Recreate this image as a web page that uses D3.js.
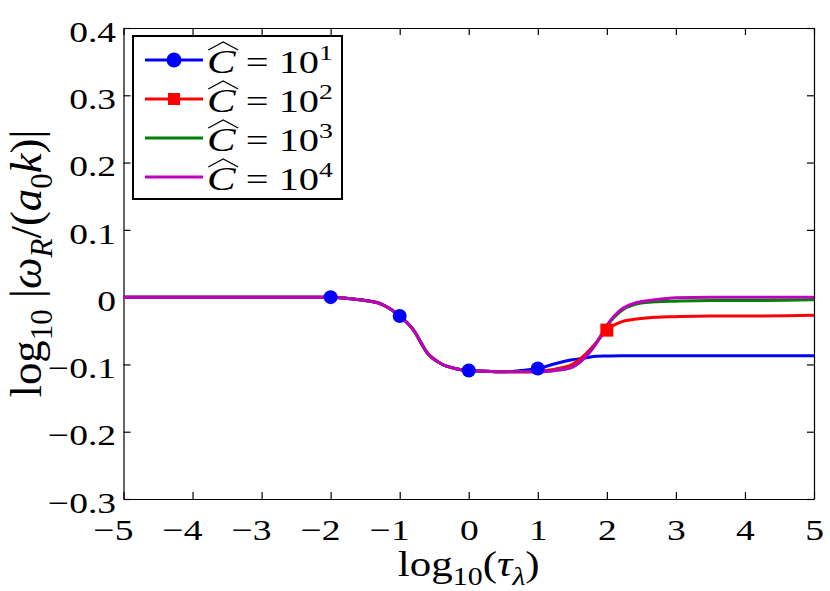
<!DOCTYPE html>
<html>
<head>
<meta charset="utf-8">
<script src="https://cdn.jsdelivr.net/npm/d3@7"></script>
<style>
    body { margin: 0; background: #fff; }
    text { font-family: "Liberation Serif", "Times New Roman", serif; fill: #000; }
</style>
</head>
<body>
<svg id="chart"></svg>
<script>
// values
const logTau = [-5, -3, -2.5, -2, -1.75, -1.5, -1.25, -1, -0.8, -0.6, -0.4, -0.2, 0, 0.25, 0.5,
    0.75, 1, 1.25, 1.5, 1.7, 1.85, 2, 2.2, 2.4, 2.7, 3, 3.5, 4, 5];
const c1 = [0, 0, 0, 0, -0.002, -0.005, -0.011, -0.028, -0.049, -0.083, -0.099, -0.106, -0.109, -0.110, -0.111,
    -0.109, -0.106, -0.099, -0.093, -0.090, -0.088, -0.0875, -0.087, -0.087, -0.087, -0.087, -0.087, -0.087, -0.087];
const c2 = [0, 0, 0, 0, -0.002, -0.005, -0.011, -0.028, -0.049, -0.083, -0.099, -0.106, -0.109, -0.110, -0.111,
    -0.111, -0.110, -0.107, -0.100, -0.084, -0.067, -0.049, -0.037, -0.033, -0.030, -0.029, -0.028, -0.028, -0.027];
const c3 = [0, 0, 0, 0, -0.002, -0.005, -0.011, -0.028, -0.049, -0.083, -0.099, -0.106, -0.109, -0.110, -0.111,
    -0.111, -0.111, -0.109, -0.104, -0.088, -0.068, -0.043, -0.021, -0.011, -0.007, -0.006, -0.005, -0.005, -0.004];
const c4 = [0, 0, 0, 0, -0.002, -0.005, -0.011, -0.028, -0.049, -0.083, -0.099, -0.106, -0.109, -0.110, -0.111,
    -0.111, -0.111, -0.109, -0.104, -0.088, -0.068, -0.042, -0.019, -0.009, -0.004, -0.001, 0, 0, 0];
const exponents = ["1", "2", "3", "4"];
const colors = ["#0000ff", "#ff0000", "#008000", "#bf00bf"];
const markersC1 = [-2, -1, 0, 1];
const markersC2 = [2];
const xTicks = [-5, -4, -3, -2, -1, 0, 1, 2, 3, 4, 5];
const yTicks = [-0.3, -0.2, -0.1, 0, 0.1, 0.2, 0.3, 0.4];

const series = [
    {values: c1, exp: exponents[0], color: colors[0], marker: "circle", at: markersC1},
    {values: c2, exp: exponents[1], color: colors[1], marker: "square", at: markersC2},
    {values: c3, exp: exponents[2], color: colors[2], marker: null, at: []},
    {values: c4, exp: exponents[3], color: colors[3], marker: null, at: []}
];

const W = 830, H = 591;
const SX = 1.25; // the figure is a bit stretched sideways
const FONT = '"Liberation Serif", "Times New Roman", serif';
const svg = d3.select("#chart").attr("width", W).attr("height", H);

const x = d3.scaleLinear().domain([-5, 5]).range([123.5, 814]);
const y = d3.scaleLinear().domain([-0.3, 0.4]).range([499, 28]);

function styleAxis(g) {
    g.attr("font-family", null).attr("font-size", null);
    g.select(".domain").attr("stroke", "#000").attr("stroke-width", 1.2);
    g.selectAll(".tick line").attr("stroke", "#000").attr("stroke-width", 1.2);
    g.selectAll("text").style("font-family", FONT).style("font-size", "30px");
}

const gx = svg.append("g")
    .attr("transform", `translate(0,${y(-0.3)})`)
    .call(d3.axisBottom(x).tickValues(xTicks).tickSizeInner(-7).tickSizeOuter(0).tickFormat(d3.format("d")))
    .call(styleAxis);
gx.selectAll("text")
    .attr("y", 41).attr("dy", 0)
    .attr("dx", d => d < 0 ? "-0.28em" : 0)
    .attr("transform", `scale(${SX},1)`);

const gy = svg.append("g")
    .attr("transform", `translate(${x(-5)},0)`)
    .call(d3.axisLeft(y).tickValues(yTicks).tickSizeInner(-7).tickSizeOuter(0).tickPadding(6)
        .tickFormat(d => d === 0 ? "0" : d3.format(".1f")(d)))
    .call(styleAxis);
gy.selectAll("text")
    .attr("dy", "0.44em")
    .attr("transform", `scale(${SX},1)`);

svg.append("g")
    .attr("transform", `translate(0,${y(0.4)})`)
    .call(d3.axisTop(x).tickValues(xTicks).tickSizeInner(-7).tickSizeOuter(0).tickFormat(() => ""))
    .call(styleAxis);
svg.append("g")
    .attr("transform", `translate(${x(5)},0)`)
    .call(d3.axisRight(y).tickValues(yTicks).tickSizeInner(-7).tickSizeOuter(0).tickFormat(() => ""))
    .call(styleAxis);

// curves
const line = d3.line()
    .x((d, i) => x(logTau[i]))
    .y(d => y(d))
    .curve(d3.curveMonotoneX);

svg.append("g").selectAll("path")
    .data(series)
    .enter().append("path")
    .attr("d", d => line(d.values))
    .attr("fill", "none")
    .attr("stroke", d => d.color)
    .attr("stroke-width", 3);

// markers on top
const mk = svg.append("g");
series.forEach(s => {
    s.at.forEach(t => {
        const v = s.values[logTau.indexOf(t)];
        if (s.marker === "circle") {
            mk.append("circle").attr("cx", x(t)).attr("cy", y(v)).attr("r", 7).attr("fill", s.color);
        } else if (s.marker === "square") {
            mk.append("rect").attr("x", x(t) - 6.5).attr("y", y(v) - 6.5)
                .attr("width", 13).attr("height", 13).attr("fill", s.color);
        }
    });
});

// legend
const leg = svg.append("g");
leg.append("rect")
    .attr("x", 133).attr("y", 36).attr("width", 209).attr("height", 163)
    .attr("fill", "#fff").attr("stroke", "#000").attr("stroke-width", 2);

series.forEach((s, i) => {
    const ry = 60 + i * 39;
    leg.append("line")
        .attr("x1", 145).attr("x2", 203).attr("y1", ry).attr("y2", ry)
        .attr("stroke", s.color).attr("stroke-width", 3);
    if (s.marker === "circle") {
        leg.append("circle").attr("cx", 174).attr("cy", ry).attr("r", 7.5).attr("fill", s.color);
    } else if (s.marker === "square") {
        leg.append("rect").attr("x", 168).attr("y", ry - 6).attr("width", 12).attr("height", 12).attr("fill", s.color);
    }

    const g = leg.append("g").attr("transform", `translate(207,${ry + 13})`);
    const inner = g.append("g");
    const t = inner.append("text").style("font-family", FONT).style("font-size", "32px");
    t.append("tspan").style("font-style", "italic").style("font-size", "34px").text("C");
    t.append("tspan").text(" = 10");
    t.append("tspan").attr("dy", -13).style("font-size", "22px").text(s.exp);
    const w = t.node().getBBox().width;
    inner.attr("transform", `scale(${126 / w},1)`);
    const e = t.node().getExtentOfChar(0);
    const hx0 = e.x + 1, hx1 = e.x + e.width + 2;
    inner.append("path")
        .attr("d", `M${hx0},-23 L${(hx0 + hx1) / 2},-31 L${hx1},-23`)
        .attr("fill", "none").attr("stroke", "#000").attr("stroke-width", 1.3)
        .attr("vector-effect", "non-scaling-stroke");
});

// axis labels
const xl = svg.append("g").attr("transform", `translate(${(x(-5) + x(5)) / 2},576)`)
    .append("text").attr("text-anchor", "middle").style("font-family", FONT).style("font-size", "36px");
xl.append("tspan").text("log");
xl.append("tspan").attr("dy", 9).style("font-size", "25px").text("10");
xl.append("tspan").attr("dy", -9).text("(");
xl.append("tspan").style("font-style", "italic").text("τ");
xl.append("tspan").attr("dy", 9).style("font-size", "25px").style("font-style", "italic").text("λ");
xl.append("tspan").attr("dy", -9).text(")");
xl.attr("transform", `scale(${142 / xl.node().getBBox().width},1)`);

const yl = svg.append("g").attr("transform", `translate(41,${(y(-0.3) + y(0.4)) / 2}) rotate(-90)`)
    .append("text").attr("text-anchor", "middle").style("font-family", FONT).style("font-size", "36px");
yl.append("tspan").text("log");
yl.append("tspan").attr("dy", 9).style("font-size", "25px").text("10");
yl.append("tspan").attr("dy", -9).text(" |");
yl.append("tspan").style("font-style", "italic").text("ω");
yl.append("tspan").attr("dy", 9).style("font-size", "25px").style("font-style", "italic").text("R");
yl.append("tspan").attr("dy", -9).text("/(");
yl.append("tspan").style("font-style", "italic").text("a");
yl.append("tspan").attr("dy", 9).style("font-size", "25px").text("0");
yl.append("tspan").attr("dy", -9).style("font-style", "italic").text("k");
yl.append("tspan").text(")|");
yl.attr("transform", `scale(${268 / yl.node().getBBox().width},${SX})`);
</script>
</body>
</html>
